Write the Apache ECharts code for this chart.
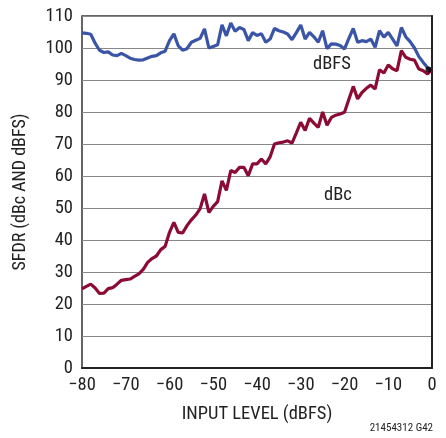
<!DOCTYPE html>
<html><head><meta charset="utf-8">
<script src="https://cdn.jsdelivr.net/npm/echarts@6/dist/echarts.min.js"></script>
<style>html,body{margin:0;padding:0;background:#fff}#c{width:446px;height:438px}</style>
</head><body><div id="c"></div>
<script>
const inputLevel = [];
for (let i = -80; i <= 0; i++) inputLevel.push(i);
const sfdrDbfs = [104.7,104.6,104.3,101.5,99.3,98.6,98.8,97.8,97.6,98.3,97.6,96.8,96.4,96.2,96.3,96.9,97.4,97.6,98.5,99,
  102.3,104.4,100.7,99.3,99.8,101.8,102.4,103,106,100,100.5,101,107.2,103.8,107.8,105.2,106.4,105.8,102.3,104.8,
  103.9,104.5,101.8,102.8,106.1,105.4,105,104.4,102.6,104.8,107.2,102.8,104.9,103.5,101.8,105.4,99.8,101.3,101.2,100.8,
  99.7,103,106.1,101.8,102.3,102,102.8,100.2,105.4,103.4,104.9,102.8,100.7,106.4,103.5,102,100,97.3,95.5,93.8,93];
const sfdrDbc = [24.7,25.5,26.2,25,23.3,23.4,24.8,25.1,26.2,27.4,27.6,27.8,28.6,29.4,30.8,33,34.2,35,37,38,
  42.4,45.5,42.4,42.2,44.5,46.3,47.8,49.8,54.4,48.6,50.5,52,58.5,55.5,61.7,61.1,62.7,62.7,60.1,63.8,
  63.8,65.3,63.8,66,70,70.4,70.6,71,70.3,73.5,76.8,74.2,78,76.5,75.2,80,75.9,78.3,79,79.4,
  79.9,84,88,84.1,86.1,87.4,88.4,87.2,93.2,92.2,94.7,93.5,92.9,99.2,97.1,96.5,96.2,93.4,92.9,91.9,93.4];
const endPoint = [-0.8, 93.3];
const xTicks = ['−80','−70','−60','−50','−40','−30','−20','−10','0'];
const FONT = '"Liberation Sans Narrow","Roboto Condensed","Liberation Sans",sans-serif';
const chart = echarts.init(document.getElementById('c'));
const pair = a => a.map((v,i)=>[inputLevel[i], v]);
chart.setOption({
  animation:false,
  grid:{left:82,right:14,top:16,bottom:70,show:true,borderColor:'#333',borderWidth:1.5},
  xAxis:{type:'value',min:-80,max:0,interval:10,
    axisLine:{show:true,lineStyle:{color:'#222',width:2}},axisTick:{show:false},splitLine:{show:false},
    axisLabel:{fontFamily:FONT,fontSize:18.5,color:'#222',margin:8,
      formatter:v=>xTicks[Math.round((v+80)/10)]},
    name:'INPUT LEVEL (dBFS)',nameLocation:'middle',nameGap:37,
    nameTextStyle:{fontFamily:FONT,fontSize:18.5,color:'#222'}},
  yAxis:{type:'value',min:0,max:110,interval:10,
    axisLine:{show:true,lineStyle:{color:'#222',width:2}},axisTick:{show:false},
    splitLine:{show:true,lineStyle:{color:'#888',width:1.2}},
    axisLabel:{fontFamily:FONT,fontSize:18.5,color:'#222',margin:9},
    name:'SFDR (dBc AND dBFS)',nameLocation:'middle',nameGap:53,
    nameTextStyle:{fontFamily:FONT,fontSize:18,color:'#222'}},
  series:[
    {type:'line',data:pair(sfdrDbfs),showSymbol:false,lineStyle:{color:'#3a55a6',width:3.2},z:3},
    {type:'line',data:pair(sfdrDbc),showSymbol:false,lineStyle:{color:'#8c0b34',width:3.2},z:4},
    {type:'scatter',data:[endPoint],symbolSize:6,itemStyle:{color:'#000'},z:5}
  ],
  graphic:[
    {type:'text',left:313,top:55,style:{text:'dBFS',font:'18.5px '+FONT,fill:'#222'}},
    {type:'text',left:324,top:186,style:{text:'dBc',font:'18.5px '+FONT,fill:'#222'}},
    {type:'text',right:13,top:423,style:{text:'21454312 G42',font:'11px '+FONT,fill:'#222'}}
  ]
});
</script></body></html>
